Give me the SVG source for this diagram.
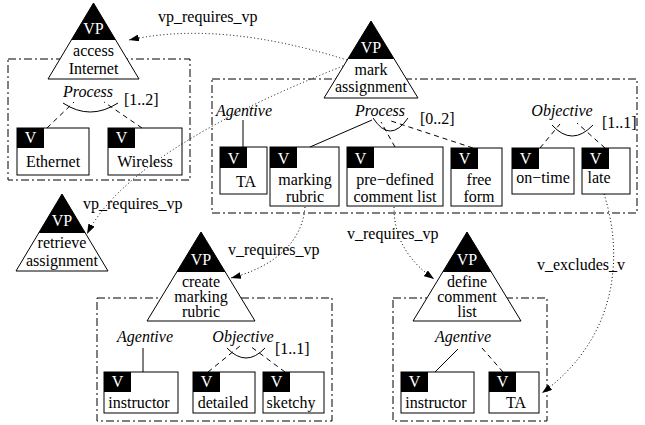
<svg xmlns="http://www.w3.org/2000/svg" width="645" height="425" viewBox="0 0 645 425">
<style>
text{font-family:"Liberation Serif","Times New Roman",serif;font-size:16px;fill:#000}
.c{text-anchor:middle}
.w{fill:#fff}
.i{font-style:italic}
.tri{fill:#fff;stroke:#000;stroke-width:1}
.blk{fill:#000}
.box{fill:#fff;stroke:#000;stroke-width:1}
.grp{fill:none;stroke:#000;stroke-width:1;stroke-dasharray:8 3 2 3}
.dash{fill:none;stroke:#000;stroke-width:1;stroke-dasharray:5 4}
.sol{fill:none;stroke:#000;stroke-width:1}
.dot{fill:none;stroke:#000;stroke-width:1;stroke-dasharray:1 2.5}
</style>
<defs>
<marker id="ah" viewBox="0 0 10 7" refX="10" refY="3.5" markerWidth="10" markerHeight="7" markerUnits="userSpaceOnUse" orient="auto">
<path d="M0,0 L10,3.5 L0,7 Z" fill="#000"/>
</marker>
</defs>

<!-- group boxes -->
<g id="groups">
<rect class="grp" x="8" y="59" width="182" height="121"/>
<rect class="grp" x="212" y="79" width="425" height="134"/>
<rect class="grp" x="97" y="298" width="235" height="123"/>
<rect class="grp" x="393" y="298" width="154" height="123"/>
</g>

<!-- VP nodes -->
<g id="vp-access-internet">
<polygon class="tri" points="93.5,3 139,79 48,79"/>
<polygon class="blk" points="93.5,3 115.7,40 71.3,40"/>
<text class="c w" x="93.5" y="34">VP</text>
<text class="c" x="93.5" y="56">access</text>
<text class="c" x="93.5" y="74">Internet</text>
</g>
<g id="vp-mark-assignment">
<polygon class="tri" points="371,21 418,98 324,98"/>
<polygon class="blk" points="371,21 394.2,59 347.8,59"/>
<text class="c w" x="371" y="53">VP</text>
<text class="c" x="371" y="75">mark</text>
<text class="c" x="371" y="92">assignment</text>
</g>
<g id="vp-retrieve-assignment">
<polygon class="tri" points="62,194 108,271 16,271"/>
<polygon class="blk" points="62,194 85.3,233 38.7,233"/>
<text class="c w" x="62" y="226">VP</text>
<text class="c" x="62" y="248">retrieve</text>
<text class="c" x="62" y="266">assignment</text>
</g>
<g id="vp-create-marking-rubric">
<polygon class="tri" points="201,232 255,321 147,321"/>
<polygon class="blk" points="201,232 225.3,272 176.7,272"/>
<text class="c w" x="201" y="265">VP</text>
<text class="c" x="201" y="287">create</text>
<text class="c" x="201" y="302">marking</text>
<text class="c" x="201" y="317">rubric</text>
</g>
<g id="vp-define-comment-list">
<polygon class="tri" points="467,232 521,321 413,321"/>
<polygon class="blk" points="467,232 491.3,272 442.7,272"/>
<text class="c w" x="467" y="265">VP</text>
<text class="c" x="467" y="287">define</text>
<text class="c" x="467" y="302">comment</text>
<text class="c" x="467" y="317">list</text>
</g>

<!-- group decorations -->
<g id="group-labels">
<text class="c i" x="88" y="97">Process</text>
<text x="124" y="105">[1..2]</text>
<text class="c i" x="244" y="116">Agentive</text>
<text class="c i" x="380" y="116">Process</text>
<text x="420" y="124">[0..2]</text>
<text class="c i" x="562" y="116">Objective</text>
<text x="602" y="128">[1..1]</text>
<text class="c i" x="145" y="342">Agentive</text>
<text class="c i" x="243" y="342">Objective</text>
<text x="275" y="354">[1..1]</text>
<text class="c i" x="463" y="342">Agentive</text>
</g>

<!-- V nodes -->
<g id="v-ethernet"><rect class="box" x="17" y="128" width="72" height="47"/><rect class="blk" x="17" y="128" width="27" height="20"/><text class="c w" x="30.5" y="143">V</text><text class="c" x="53" y="167">Ethernet</text></g>
<g id="v-wireless"><rect class="box" x="108" y="128" width="74" height="47"/><rect class="blk" x="108" y="128" width="27" height="20"/><text class="c w" x="121.5" y="143">V</text><text class="c" x="145" y="167">Wireless</text></g>
<g id="v-ta-1"><rect class="box" x="220" y="147" width="47" height="47"/><rect class="blk" x="220" y="147" width="27" height="21"/><text class="c w" x="233.5" y="164">V</text><text class="c" x="246" y="187">TA</text></g>
<g id="v-marking-rubric"><rect class="box" x="270" y="147" width="69" height="59"/><rect class="blk" x="270" y="147" width="27" height="21"/><text class="c w" x="283.5" y="164">V</text><text class="c" x="305" y="185">marking</text><text class="c" x="305" y="202">rubric</text></g>
<g id="v-predefined"><rect class="box" x="347" y="147" width="96" height="59"/><rect class="blk" x="347" y="147" width="27" height="21"/><text class="c w" x="360.5" y="164">V</text><text class="c" x="395" y="185">pre−defined</text><text class="c" x="395" y="202">comment list</text></g>
<g id="v-free-form"><rect class="box" x="451" y="148" width="51" height="58"/><rect class="blk" x="451" y="148" width="27" height="21"/><text class="c w" x="464.5" y="164">V</text><text class="c" x="479" y="185">free</text><text class="c" x="479" y="202">form</text></g>
<g id="v-on-time"><rect class="box" x="512" y="148" width="62" height="46"/><rect class="blk" x="512" y="148" width="27" height="21"/><text class="c w" x="525.5" y="164">V</text><text class="c" x="543" y="183">on−time</text></g>
<g id="v-late"><rect class="box" x="582" y="148" width="48" height="46"/><rect class="blk" x="582" y="148" width="27" height="21"/><text class="c w" x="595.5" y="164">V</text><text class="c" x="599" y="183">late</text></g>
<g id="v-instructor-1"><rect class="box" x="104" y="372" width="74" height="41"/><rect class="blk" x="104" y="372" width="27" height="20"/><text class="c w" x="117.5" y="387">V</text><text class="c" x="139" y="408">instructor</text></g>
<g id="v-detailed"><rect class="box" x="193" y="372" width="62" height="41"/><rect class="blk" x="193" y="372" width="27" height="20"/><text class="c w" x="206.5" y="387">V</text><text class="c" x="223" y="408">detailed</text></g>
<g id="v-sketchy"><rect class="box" x="263" y="372" width="61" height="41"/><rect class="blk" x="263" y="372" width="27" height="20"/><text class="c w" x="276.5" y="387">V</text><text class="c" x="291" y="408">sketchy</text></g>
<g id="v-instructor-2"><rect class="box" x="401" y="372" width="73" height="41"/><rect class="blk" x="401" y="372" width="27" height="20"/><text class="c w" x="414.5" y="387">V</text><text class="c" x="436" y="408">instructor</text></g>
<g id="v-ta-2"><rect class="box" x="489" y="372" width="50" height="41"/><rect class="blk" x="489" y="372" width="27" height="20"/><text class="c w" x="502.5" y="387">V</text><text class="c" x="516" y="408">TA</text></g>

<!-- connectors -->
<g id="connectors">
<!-- group links -->
<path class="dash" d="M47,128 L74,102"/>
<path class="dash" d="M142,128 L104,102"/>
<path class="sol" d="M63,103 Q90,121 118,103"/>
<path class="sol" d="M243,120 L243,147"/>
<path class="sol" d="M310,147 L372,120"/>
<path class="dash" d="M395,147 L381,122"/>
<path class="dash" d="M473,148 L388,120"/>
<path class="sol" d="M373,118 Q390,144 408,118"/>
<path class="dash" d="M540,148 L560,124"/>
<path class="dash" d="M605,148 L577,123"/>
<path class="sol" d="M552,125 Q572,147 593,125"/>
<path class="sol" d="M143,348 L143,372"/>
<path class="dash" d="M208,372 L240,346"/>
<path class="dash" d="M285,372 L250,346"/>
<path class="sol" d="M227,348 Q246,368 265,348"/>
<path class="sol" d="M458,349 L435,372"/>
<path class="dash" d="M482,348 L503,372"/>
<!-- constraints -->
<path class="dot" marker-end="url(#ah)" d="M347,60 Q220,20 129,40"/>
<path class="dot" marker-end="url(#ah)" d="M343,66 Q130,150 87,234"/>
<path class="dot" marker-end="url(#ah)" d="M305,207 C302,245 270,268 231,278"/>
<path class="dot" marker-end="url(#ah)" d="M394,207 C394,240 410,262 434,279"/>
<path class="dot" marker-end="url(#ah)" d="M604,194 C625,260 615,340 542,393"/>
<text x="158" y="22">vp_requires_vp</text>
<text x="83" y="209">vp_requires_vp</text>
<text x="228" y="255">v_requires_vp</text>
<text x="347" y="239">v_requires_vp</text>
<text x="537" y="270">v_excludes_v</text>
</g>
</svg>
